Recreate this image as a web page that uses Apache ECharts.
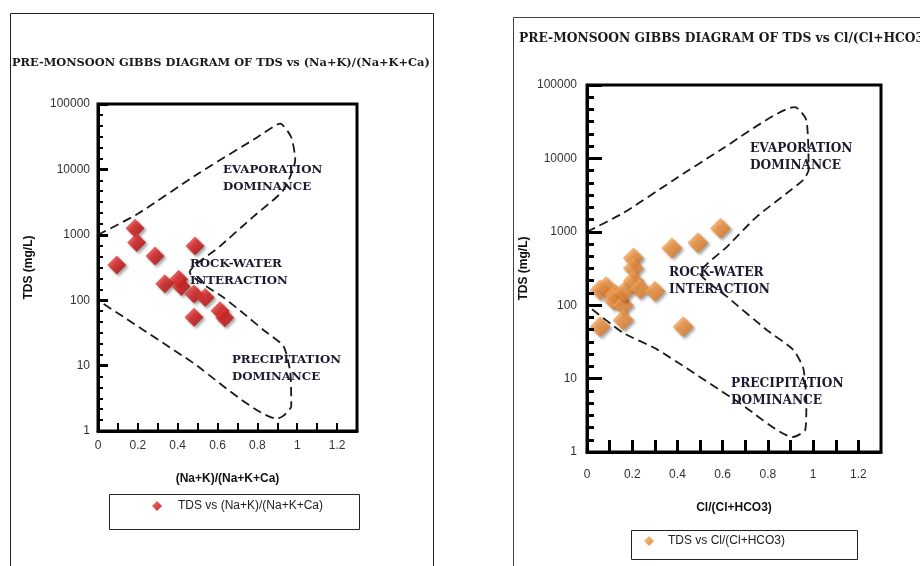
<!DOCTYPE html>
<html>
<head>
<meta charset="utf-8">
<script src="https://cdn.jsdelivr.net/npm/echarts@6/dist/echarts.min.js"></script>
<style>
html,body{margin:0;padding:0;background:#fff;}
#chart{width:920px;height:566px;}
</style>
</head>
<body>
<div id="chart"></div>
<script>
// ---- data ----
const leftTitle = 'PRE-MONSOON GIBBS DIAGRAM OF TDS vs (Na+K)/(Na+K+Ca)';
const rightTitle = 'PRE-MONSOON GIBBS DIAGRAM OF TDS vs Cl/(Cl+HCO3)';
const leftSeriesName = 'TDS vs (Na+K)/(Na+K+Ca)';
const rightSeriesName = 'TDS vs Cl/(Cl+HCO3)';
const leftXName = '(Na+K)/(Na+K+Ca)';
const rightXName = 'Cl/(Cl+HCO3)';
const yName = 'TDS (mg/L)';

// sample points [ratio, TDS]
const leftPoints = [
  [0.094, 345], [0.186, 1260], [0.194, 760], [0.286, 475], [0.487, 675],
  [0.335, 178], [0.405, 210], [0.418, 162], [0.482, 124], [0.538, 110],
  [0.482, 55], [0.612, 69], [0.636, 54]
];
const rightPoints = [
  [0.058, 51], [0.058, 162], [0.084, 178], [0.125, 140], [0.118, 118],
  [0.16, 100], [0.165, 153], [0.16, 63], [0.205, 440], [0.205, 318],
  [0.205, 215], [0.235, 168], [0.30, 155], [0.375, 600], [0.49, 710],
  [0.59, 1120], [0.425, 51]
];

// Gibbs boundary envelopes [ratio, TDS]
const leftBoundary = [
  [0, 1000], [0.2, 2100], [0.5, 8500], [0.8, 31000], [0.915, 50000],
  [0.97, 31000], [0.99, 14000], [0.93, 4800], [0.78, 1900], [0.61, 660],
  [0.46, 270], [0.63, 110], [0.73, 63], [0.83, 35], [0.93, 20],
  [0.965, 8], [0.97, 2.4], [0.93, 1.7], [0.9, 1.55], [0.46, 12], [0, 100]
];
const rightBoundary = [
  [0, 1000], [0.16, 1800], [0.38, 5000], [0.59, 13000], [0.92, 50000],
  [0.97, 33000], [0.98, 7000], [0.956, 5100], [0.88, 3300], [0.75, 1600],
  [0.62, 630], [0.5, 275], [0.62, 130], [0.795, 46], [0.91, 25],
  [0.956, 14], [0.97, 4.6], [0.965, 2], [0.91, 1.6], [0.677, 4.6],
  [0.31, 25], [0.16, 42], [0, 100]
];

const xMin = 0, xMax = 1.3, xStep = 0.1;
const yMin = 1, yMax = 100000;
const decades = 5, minorPerDecade = 6;

// region labels
const leftRegionLabels = [
  {text: 'EVAPORATION\nDOMINANCE', x: 223, y: 162},
  {text: 'ROCK-WATER\nINTERACTION', x: 190, y: 256},
  {text: 'PRECIPITATION\nDOMINANCE', x: 232, y: 352}
];
const rightRegionLabels = [
  {text: 'EVAPORATION\nDOMINANCE', x: 750, y: 141},
  {text: 'ROCK-WATER\nINTERACTION', x: 669, y: 265},
  {text: 'PRECIPITATION\nDOMINANCE', x: 731, y: 376}
];

// ---- chart ----
const chart = echarts.init(document.getElementById('chart'), null, {renderer: 'canvas'});

const serif = '"DejaVu Serif", "Liberation Serif", serif';
const sans = '"Liberation Sans", Arial, sans-serif';

function xLabel(v) {
  const k = Math.round(v * 10);
  return (k % 2 === 0 && k <= 12) ? String(k / 10) : '';
}
function yLabel(v) { return String(Math.round(v)); }

function makeX(gridIndex, name, nameGap, tickLen, tickW, labelMargin) {
  return {
    type: 'value', gridIndex, min: xMin, max: xMax, interval: xStep,
    name, nameLocation: 'middle', nameGap,
    nameTextStyle: {fontFamily: sans, fontWeight: 'bold', fontSize: 12, color: '#111'},
    axisLine: {show: true, onZero: false, lineStyle: {color: '#000', width: 3}},
    axisTick: {show: true, inside: true, length: tickLen, lineStyle: {color: '#000', width: tickW}},
    axisLabel: {formatter: xLabel, margin: labelMargin, fontFamily: sans, fontSize: 12, color: '#333', showMaxLabel: false},
    splitLine: {show: false}
  };
}
function makeY(gridIndex, nameGap, tickLen, labelMargin) {
  return {
    type: 'log', logBase: 10, gridIndex, min: yMin, max: yMax, position: 'left', z: 5,
    name: yName, nameLocation: 'middle', nameGap, nameRotate: 90,
    nameTextStyle: {fontFamily: sans, fontWeight: 'bold', fontSize: 12, color: '#111'},
    axisLine: {show: true, onZero: false, lineStyle: {color: '#000', width: 3}},
    axisTick: {show: true, inside: true, length: tickLen, lineStyle: {color: '#000', width: 3}},
    minorTick: {show: false},
    axisLabel: {formatter: yLabel, margin: labelMargin, fontFamily: sans, fontSize: 12, color: '#333'},
    splitLine: {show: false}
  };
}
// helper axis: evenly spaced minor ticks within each decade (log space)
function makeMinorY(gridIndex, len, w) {
  return {
    type: 'value', gridIndex, min: 0, max: decades * minorPerDecade, interval: 1, position: 'left', z: 4,
    axisLine: {show: false}, axisLabel: {show: false}, splitLine: {show: false},
    axisTick: {show: true, inside: true, length: len, lineStyle: {color: '#000', width: w}}
  };
}

function diamondStyle(light, mid, dark) {
  return {
    color: {type: 'linear', x: 0, y: 0, x2: 1, y2: 1,
      colorStops: [{offset: 0, color: light}, {offset: 0.5, color: mid}, {offset: 1, color: dark}]},
    shadowBlur: 3, shadowColor: 'rgba(0,0,0,0.45)', shadowOffsetX: 2, shadowOffsetY: 2
  };
}

const regionText = (size) => (lab) => ({
  type: 'text', left: lab.x, top: lab.y, z: 10, silent: true,
  style: {text: lab.text, fill: '#1a1a30', font: 'bold ' + size + 'px ' + serif, lineHeight: 16.5, textAlign: 'left'}
});

const option = {
  backgroundColor: '#fff',
  animation: false,
  title: [
    {text: leftTitle, left: 12, top: 58, padding: 0,
     textStyle: {fontFamily: serif, fontWeight: 'bold', fontSize: 11.4, color: '#1a1a1a'}},
    {text: rightTitle, left: 519, top: 33, padding: 0,
     textStyle: {fontFamily: serif, fontWeight: 'bold', fontSize: 12.3, color: '#1a1a1a'}}
  ],
  grid: [
    {left: 98, top: 104, width: 259, height: 327, show: true, borderColor: '#000', borderWidth: 3, backgroundColor: 'transparent'},
    {left: 587, top: 85, width: 294, height: 367, show: true, borderColor: '#000', borderWidth: 3, backgroundColor: 'transparent'}
  ],
  xAxis: [
    makeX(0, leftXName, 42, 8, 2, 9),
    makeX(1, rightXName, 50, 12, 3, 17)
  ],
  yAxis: [
    makeY(0, 63, 10, 8),
    makeY(1, 57, 15, 10),
    makeMinorY(0, 5, 2),
    makeMinorY(1, 7, 3)
  ],
  legend: [
    {data: [leftSeriesName], left: 152, top: 500, icon: 'diamond', itemWidth: 10, itemHeight: 10, padding: 0,
     textStyle: {fontFamily: sans, fontSize: 12, color: '#222', padding: [0, 0, 0, 11]}},
    {data: [rightSeriesName], left: 644, top: 535, icon: 'diamond', itemWidth: 10, itemHeight: 10, padding: 0,
     textStyle: {fontFamily: sans, fontSize: 12, color: '#222', padding: [0, 0, 0, 9]}}
  ],
  graphic: [
    {type: 'rect', left: 8, top: 11, silent: true, z: -1, shape: {width: 423, height: 620}, style: {fill: 'none', stroke: '#222', lineWidth: 1}},
    {type: 'rect', left: 511, top: 15, silent: true, z: -1, shape: {width: 450, height: 620}, style: {fill: 'none', stroke: '#444', lineWidth: 1}},
    {type: 'rect', left: 107, top: 492, silent: true, shape: {width: 250, height: 35}, style: {fill: 'none', stroke: '#222', lineWidth: 1}},
    {type: 'rect', left: 629, top: 528, silent: true, shape: {width: 226, height: 29}, style: {fill: 'none', stroke: '#222', lineWidth: 1}}
  ].concat(leftRegionLabels.map(regionText(11.8)), rightRegionLabels.map(regionText(12.2))),
  series: [
    {name: 'left-boundary', type: 'line', xAxisIndex: 0, yAxisIndex: 0, data: leftBoundary,
     symbol: 'none', smooth: 0.2, silent: true, z: 1,
     lineStyle: {color: '#1a1a1a', width: 1.8, type: [9, 5]}},
    {name: leftSeriesName, type: 'scatter', xAxisIndex: 0, yAxisIndex: 0, data: leftPoints,
     symbol: 'diamond', symbolSize: 19, z: 3,
     itemStyle: diamondStyle('#f05050', '#d41c1c', '#a00000')},
    {name: 'right-boundary', type: 'line', xAxisIndex: 1, yAxisIndex: 1, data: rightBoundary,
     symbol: 'none', smooth: 0.2, silent: true, z: 1,
     lineStyle: {color: '#1a1a1a', width: 1.8, type: [9, 5]}},
    {name: rightSeriesName, type: 'scatter', xAxisIndex: 1, yAxisIndex: 1, data: rightPoints,
     symbol: 'diamond', symbolSize: 21, z: 3,
     itemStyle: diamondStyle('#f8b472', '#ee8f3a', '#d0701c')}
  ]
};
chart.setOption(option);
</script>
</body>
</html>
